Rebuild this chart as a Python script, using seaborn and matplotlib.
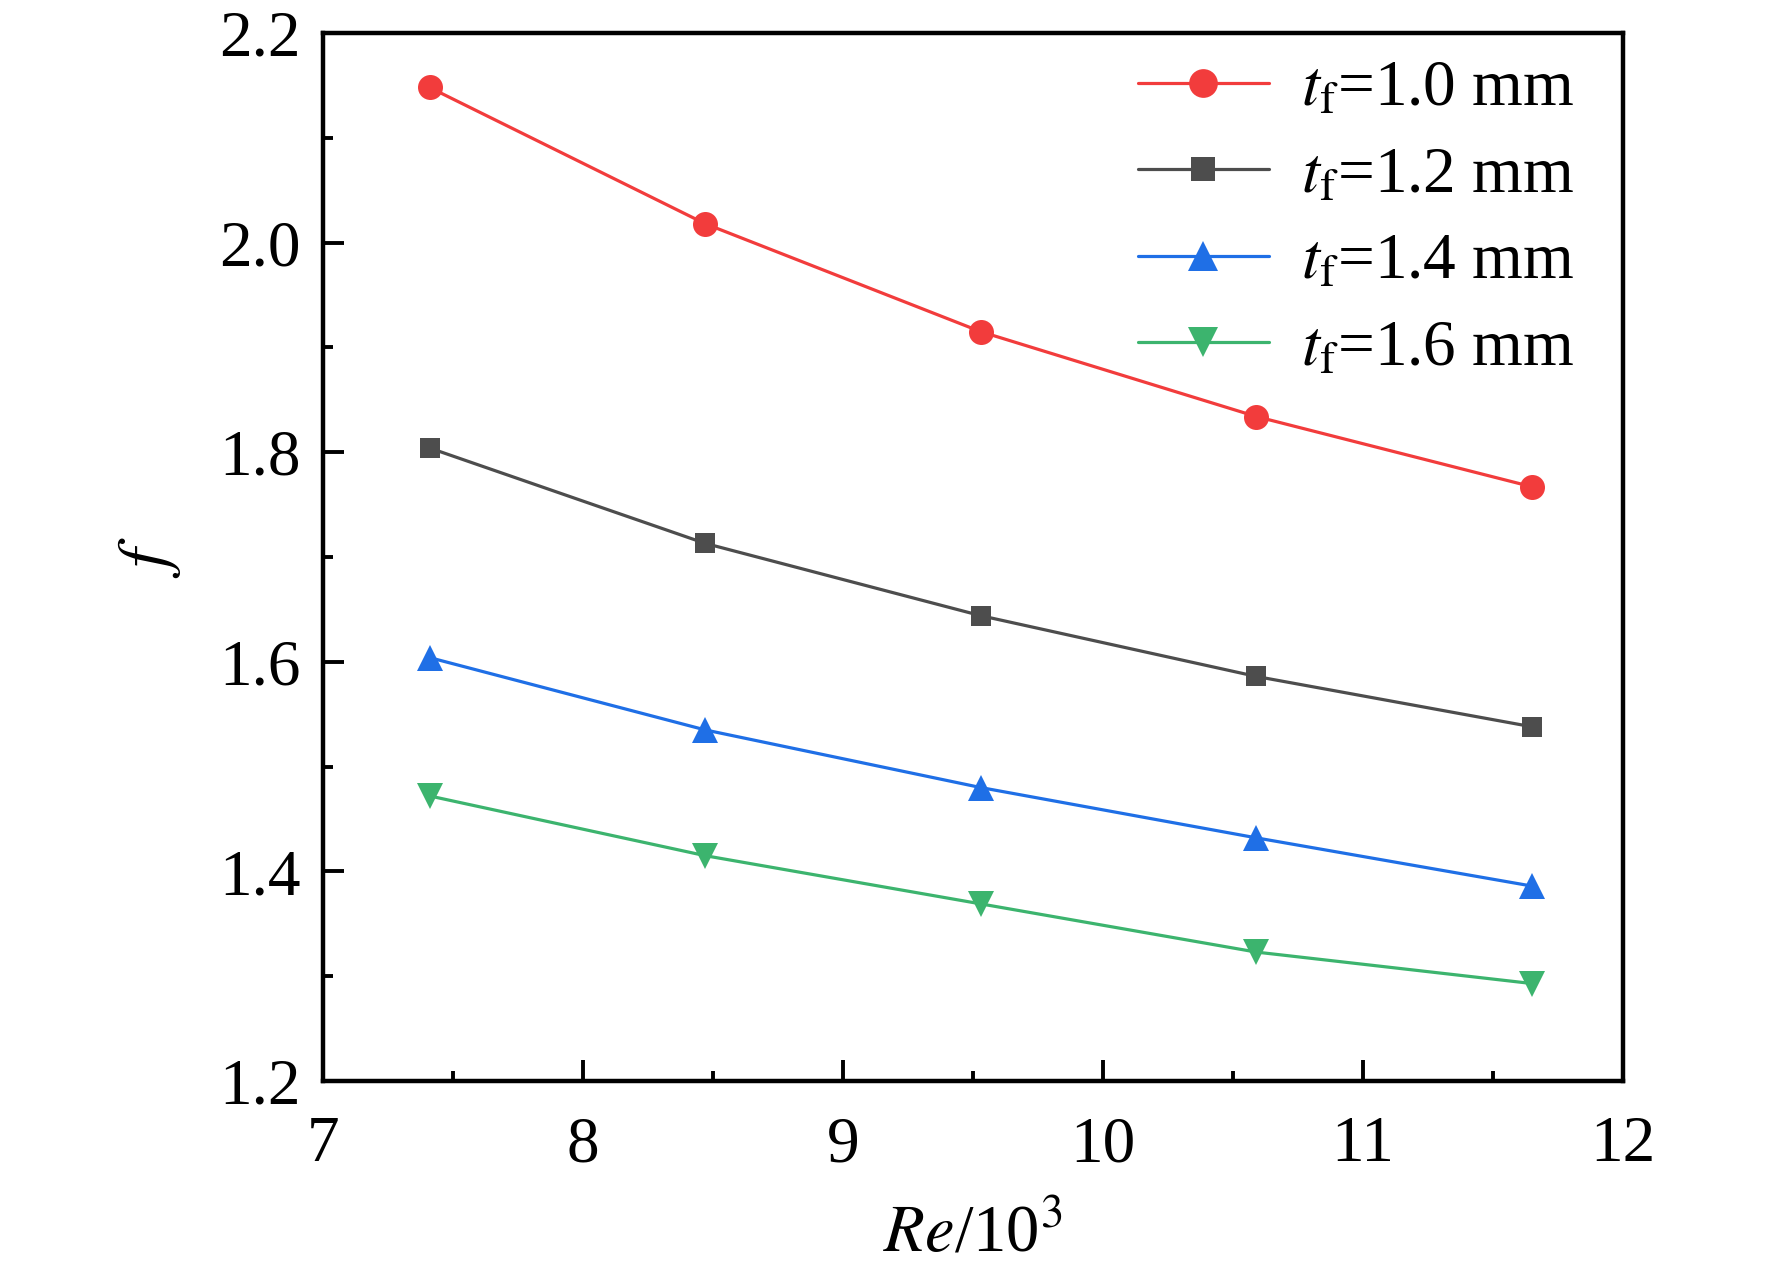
import matplotlib
matplotlib.use("Agg")
import matplotlib.pyplot as plt
from matplotlib.ticker import MultipleLocator
import seaborn as sns
import pandas as pd

# ---- data ----
re_values = [7.41, 8.47, 9.53, 10.59, 11.65]
f_t10 = [2.148, 2.018, 1.915, 1.834, 1.767]
f_t12 = [1.804, 1.713, 1.644, 1.586, 1.538]
f_t14 = [1.604, 1.535, 1.480, 1.432, 1.386]
f_t16 = [1.472, 1.415, 1.369, 1.323, 1.293]
series_labels = ["$t_\\mathrm{f}$=1.0 mm", "$t_\\mathrm{f}$=1.2 mm",
                 "$t_\\mathrm{f}$=1.4 mm", "$t_\\mathrm{f}$=1.6 mm"]
x_ticks = [7, 8, 9, 10, 11, 12]
y_ticks = [1.2, 1.4, 1.6, 1.8, 2.0, 2.2]

sns.set_theme(style="ticks")
plt.rcParams['font.family'] = ['Liberation Serif', 'DejaVu Serif']
plt.rcParams['mathtext.fontset'] = 'stix'
for k in ['text.color', 'axes.labelcolor', 'xtick.color', 'ytick.color', 'axes.edgecolor']:
    plt.rcParams[k] = 'black'

fig = plt.figure(figsize=(17.72, 12.70), dpi=100)
ax = fig.add_axes([323/1772, 1-1081/1270, (1623-323)/1772, (1081-33)/1270])

colors = ["#F23C3C", "#4D4D4D", "#1F6FE6", "#3CB46E"]
markers = ["o", "s", "^", "v"]
msizes = [18, 15, 19, 19]
all_f = [f_t10, f_t12, f_t14, f_t16]

for fv, lab, c, m, ms in zip(all_f, series_labels, colors, markers, msizes):
    df = pd.DataFrame({"Re": re_values, "f": fv})
    sns.lineplot(data=df, x="Re", y="f", ax=ax, color=c, marker=m,
                 markersize=ms, markeredgewidth=0, linewidth=2.3, label=lab)

ax.set_xlim(7, 12)
ax.set_ylim(1.2, 2.2)
ax.set_xticks(x_ticks)
ax.set_yticks(y_ticks)
ax.set_xticklabels([str(v) for v in x_ticks])
ax.set_yticklabels([f"{v:.1f}" for v in y_ticks])
ax.xaxis.set_minor_locator(MultipleLocator(0.5))
ax.yaxis.set_minor_locator(MultipleLocator(0.1))
ax.tick_params(which='major', direction='in', length=15, width=2.8,
               labelsize=47, top=False, right=False, color='black',
               labelcolor='black')
ax.tick_params(axis='x', which='major', pad=25)
ax.tick_params(axis='y', which='major', pad=16)
ax.tick_params(which='minor', direction='in', length=7.5, width=2.8,
               top=False, right=False, color='black')
for s in ax.spines.values():
    s.set_linewidth(3.2)
    s.set_color('black')

ax.set_xlabel("$Re$/10$^3$", fontsize=48, labelpad=20, color='black')
ax.set_ylabel("$f$", fontsize=50, labelpad=26, color='black')

leg = ax.legend(loc='upper right', frameon=False, fontsize=47,
                handlelength=2.0, handletextpad=0.5, labelspacing=0.41,
                borderaxespad=0.3, bbox_to_anchor=(0.998, 1.018),
                markerscale=1.15)
for t in leg.get_texts():
    t.set_color('black')

fig.savefig("out.png", dpi=100, facecolor='white')
